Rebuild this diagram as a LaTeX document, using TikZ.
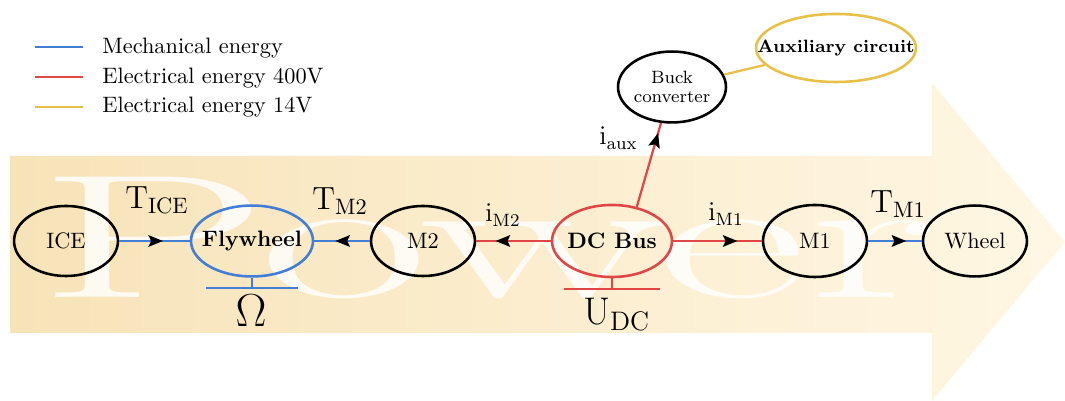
\documentclass[tikz,border=0pt]{standalone}
\usetikzlibrary{shapes.geometric,arrows.meta,decorations.markings,calc}
\definecolor{mechblue}{RGB}{66,126,214}
\definecolor{elecred}{RGB}{224,70,70}
\definecolor{auxyellow}{RGB}{232,192,72}
\definecolor{bgleft}{RGB}{247,227,184}
\definecolor{bgright}{RGB}{255,247,228}
\begin{document}
\begin{tikzpicture}[x=0.4484pt,y=-0.4484pt,
  ell/.style={ellipse, draw=black, line width=1.15pt, inner sep=0pt},
  mechline/.style={draw=mechblue, line width=1pt},
  elecline/.style={draw=elecred, line width=1pt},
  auxline/.style={draw=auxyellow, line width=1pt},
  midarrow/.style={postaction={decorate}, decoration={markings,
     mark=at position #1 with {\arrow{Stealth[length=6.5pt,width=5.2pt,inset=1.2pt,color=black]}}}},
  lbl/.style={inner sep=0pt, anchor=base west},
  legtext/.style={inner sep=0pt, anchor=base west}
]
\useasboundingbox (0,0) rectangle (1065,401);
% background arrow
\shade[left color=bgleft, right color=bgright]
  (10,156) -- (932,156) -- (932,83) -- (1065,242) -- (932,401) -- (932,333) -- (10,333) -- cycle;
% watermark
\node[inner sep=0pt, anchor=base west, text=white, text opacity=0.82] (power) at (36,298)
  {\scalebox{2.1}[1]{\fontsize{79}{80}\selectfont Power}};
% legend
\draw[mechline] (35,47) coordinate (la1) -- (83,47) coordinate (lb1);
\draw[elecline] (35,77) coordinate (la2) -- (83,77) coordinate (lb2);
\draw[auxline] (35,107) coordinate (la3) -- (83,107) coordinate (lb3);
\node[legtext] (leg1) at (102,54) {Mechanical energy};
\node[legtext] (leg2) at (102,84) {Electrical energy 400V};
\node[legtext] (leg3) at (102,113) {Electrical energy 14V};
% nodes
\node[ell, minimum width=46.6pt, minimum height=31.4pt] (ice) at (66,241) {\makebox[0pt]{ICE}};
\node[ell, draw=mechblue, minimum width=54.7pt, minimum height=31.8pt] (fly) at (252,241) {\makebox[0pt]{\bfseries Flywheel}};
\node[ell, minimum width=46.6pt, minimum height=31.4pt] (m2) at (423,241) {\makebox[0pt]{M2}};
\node[ell, draw=elecred, minimum width=53.8pt, minimum height=32.3pt] (dc) at (612,241) {\makebox[0pt]{\bfseries DC Bus}};
\node[ell, minimum width=46.6pt, minimum height=32.3pt] (m1) at (815,241) {\makebox[0pt]{M1}};
\node[ell, minimum width=46.6pt, minimum height=31.8pt] (wheel) at (975,241) {\makebox[0pt]{Wheel}};
\node[ell, minimum width=47.1pt, minimum height=31.8pt, align=center, font=\fontsize{8}{8.2}\selectfont] (buck) at (672,87) {Buck\\converter};
\node[ell, draw=auxyellow, minimum width=71.7pt, minimum height=30.5pt, font=\footnotesize\bfseries] (aux) at (836,48) {\makebox[0pt]{Auxiliary circuit}};
% connectors
\draw[mechline, midarrow=0.62] (ice) -- (fly);
\draw[mechline, midarrow=0.62] (m2) -- (fly);
\draw[elecline, midarrow=0.74] (dc) -- (m2);
\draw[elecline, midarrow=0.725] (dc) -- (m1);
\draw[mechline, midarrow=0.71] (m1) -- (wheel);
\draw[elecline, midarrow=0.88] (dc.54) -- (buck.253);
\draw[auxline] (buck) -- (aux);
% state bars
\draw[mechline] (fly.south) -- ++(0,10) coordinate (flyb);
\draw[mechline] ($(flyb)+(-46,0)$) coordinate (flyl) -- ($(flyb)+(46,0)$) coordinate (flyr);
\draw[elecline] (dc.south) -- ++(0,11) coordinate (dcb);
\draw[elecline] ($(dcb)+(-48,0)$) coordinate (dcl) -- ($(dcb)+(48,0)$) coordinate (dcr);
% labels
\node[lbl] (tice) at (125,209) {\Large $\mathrm{T}_{\mathrm{ICE}}$};
\node[lbl] (tm2) at (312,210) {\Large $\mathrm{T}_{\mathrm{M2}}$};
\node[lbl] (im2) at (485,222) {\large $\mathrm{i}_{\mathrm{M2}}$};
\node[lbl] (im1) at (708,221) {\large $\mathrm{i}_{\mathrm{M1}}$};
\node[lbl] (tm1) at (870,213) {\Large $\mathrm{T}_{\mathrm{M1}}$};
\node[lbl] (iaux) at (599,145) {\large $\mathrm{i}_{\mathrm{aux}}$};
\node[inner sep=0pt, anchor=base] (omega) at (251,327) {\huge $\Omega$};
\node[lbl] (udc) at (583,325) {\LARGE $\mathrm{U}_{\mathrm{DC}}$};
\end{tikzpicture}
\end{document}
